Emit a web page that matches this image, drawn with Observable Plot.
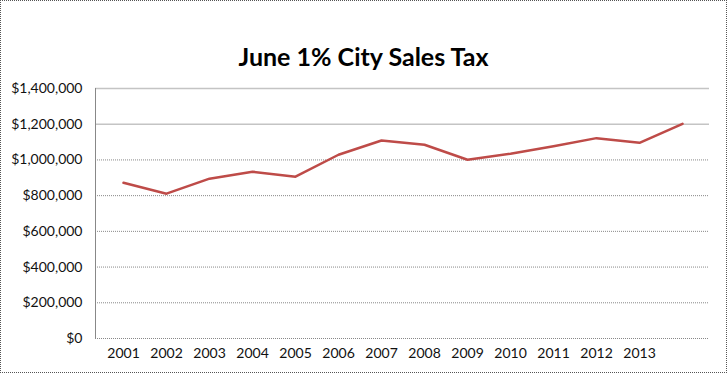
<!DOCTYPE html>
<html><head><meta charset="utf-8">
<script src="https://cdn.jsdelivr.net/npm/d3@7"></script>
<script src="https://cdn.jsdelivr.net/npm/@observablehq/plot@0.6"></script>
<style>
html,body{margin:0;padding:0;background:#fff;}
#chart svg{display:block;outline:1px dotted #555;outline-offset:-1px;}
</style></head>
<body><div id="chart"></div>
<script>
const title = "June 1% City Sales Tax";
const years = [2001,2002,2003,2004,2005,2006,2007,2008,2009,2010,2011,2012,2013,2014];
const tickYears = [2001,2002,2003,2004,2005,2006,2007,2008,2009,2010,2011,2012,2013];
const sales = [872000,811000,895000,934000,906000,1029000,1109000,1085000,1001000,1035000,1077000,1122000,1096000,1202000];
const yTicks = [0,200000,400000,600000,800000,1000000,1200000,1400000];
const solidGrid = [1200000,1400000];

const data = years.map((y,i)=>({year:y, value:sales[i]}));
const fmt = d => "$" + d3.format(",")(d);
const font = "Lato, 'Open Sans', sans-serif";

const chart = Plot.plot({
  width: 727, height: 373,
  marginTop: 88, marginBottom: 35, marginLeft: 95, marginRight: 18,
  style: {fontFamily: font, fontSize: "14px", color: "#000", background: "#fff"},
  x: {type: "point", domain: years, padding: 0.5, label: null},
  y: {domain: [0, 1400000], label: null},
  marks: [
    Plot.ruleY(yTicks.filter(t => !solidGrid.includes(t)), {stroke: "#888", strokeDasharray: "1,1"}),
    Plot.ruleY(solidGrid, {stroke: "#c4c4c4", strokeWidth: 1.5}),
    Plot.frame({anchor: "left", stroke: "#888", strokeDasharray: "1,1"}),
    Plot.axisY(yTicks, {tickSize: 0, tickPadding: 13, tickFormat: fmt, fontSize: 14, fill: "#111"}),
    Plot.axisX(tickYears, {tickSize: 0, tickPadding: 10, tickFormat: d => String(d), fontSize: 14, fill: "#111"}),
    Plot.line(data, {x: "year", y: "value", stroke: "#BE4B48", strokeWidth: 2.5}),
    Plot.text([title], {frameAnchor: "top", lineAnchor: "middle", dy: -31, dx: -39, fontSize: 25, fontWeight: "bold", fill: "#000", text: d => d})
  ]
});
document.getElementById("chart").appendChild(chart);
</script></body></html>
